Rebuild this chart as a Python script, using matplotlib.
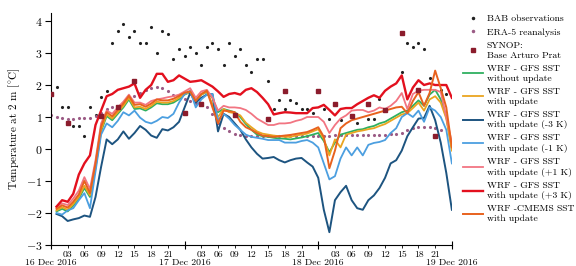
import numpy as np
import matplotlib
matplotlib.use("Agg")
import matplotlib.pyplot as plt
import matplotlib.dates as mdates

plt.rcParams["font.family"] = ["cmr10", "DejaVu Serif"]
plt.rcParams["mathtext.fontset"] = "cm"
plt.rcParams["axes.formatter.use_mathtext"] = True

# Time axis: hours after 16 Dec 2016 00 UTC
start = np.datetime64("2016-12-16T00:00")
model_hours = np.arange(1, 73)

# WRF runs (hourly, h1..h72)
wrf_no_update = [
    -1.95, -1.87, -1.95, -1.77, -1.55, -1.22, -1.5, -0.6, 0.55, 1.03,
    0.9, 1.1, 1.3, 1.55, 1.25, 1.27, 1.2, 1.3, 1.43, 1.4,
    1.4, 1.45, 1.56, 1.7, 1.78, 1.52, 1.7, 1.78, 1.6, 1.15,
    1.25, 1.2, 1.15, 1.0, 0.78, 0.6, 0.45, 0.4, 0.38, 0.35,
    0.33, 0.32, 0.3, 0.33, 0.36, 0.4, 0.45, 0.5, 0.25, -0.1,
    0.2, 0.45, 0.5, 0.55, 0.6, 0.62, 0.68, 0.72, 0.8, 0.85,
    0.95, 1.05, 1.15, 1.2, 1.35, 1.52, 1.35, 1.7, 1.85, 1.55,
    1.0, 0.0]
wrf_update = [
    -1.92, -1.82, -1.9, -1.72, -1.5, -1.15, -1.45, -0.55, 0.6, 1.08,
    0.95, 1.15, 1.35, 1.6, 1.3, 1.32, 1.25, 1.35, 1.48, 1.45,
    1.45, 1.5, 1.6, 1.72, 1.78, 1.5, 1.7, 1.8, 1.4, 1.0,
    1.25, 1.15, 1.12, 1.05, 0.82, 0.68, 0.55, 0.48, 0.45, 0.42,
    0.4, 0.38, 0.38, 0.42, 0.45, 0.48, 0.55, 0.62, 0.32, -0.2,
    0.3, 0.05, 0.45, 0.5, 0.55, 0.58, 0.62, 0.65, 0.72, 0.78,
    0.88, 0.98, 1.08, 1.12, 1.28, 1.45, 1.2, 1.55, 1.65, 1.45,
    0.95, -0.05]
wrf_m3 = [
    -2.03, -2.1, -2.25, -2.2, -2.16, -2.08, -2.12, -1.5, -0.56, 0.3,
    0.15, 0.3, 0.55, 0.32, 0.5, 0.72, 0.6, 0.42, 0.35, 0.62,
    0.58, 0.68, 0.85, 1.3, 1.75, 1.45, 1.6, 1.7, 1.72, 0.55,
    1.1, 1.0, 0.8, 0.6, 0.3, 0.05, -0.15, -0.3, -0.28, -0.25,
    -0.35, -0.42, -0.35, -0.3, -0.28, -0.42, -0.55, -0.9, -1.9, -2.6,
    -1.6, -1.35, -1.15, -1.6, -1.85, -1.9, -1.6, -1.45, -1.22, -0.9,
    -0.45, -0.35, -0.05, 0.4, 0.68, 0.95, 0.97, 1.35, 0.9, 0.2,
    -0.75, -1.9]
wrf_m1 = [
    -2.0, -2.05, -1.92, -1.85, -1.6, -1.38, -1.85, -0.7, 0.45, 0.8,
    0.68, 0.88, 1.15, 1.05, 1.2, 0.98, 0.85, 0.8, 0.88, 1.0,
    0.97, 1.1, 1.45, 1.72, 1.82, 1.3, 1.55, 1.7, 1.72, 0.9,
    1.1, 0.95, 0.75, 0.6, 0.45, 0.38, 0.35, 0.32, 0.28, 0.28,
    0.28, 0.2, 0.2, 0.2, 0.25, 0.28, 0.2, 0.05, -0.45, -0.95,
    -0.85, -0.3, 0.05, -0.2, 0.05, -0.2, 0.13, 0.19, 0.22, 0.28,
    0.5, 0.65, 1.0, 1.12, 1.0, 1.2, 0.85, 1.3, 1.2, 1.0,
    0.6, -0.45]
wrf_p1 = [
    -1.82, -1.7, -1.75, -1.55, -1.3, -0.88, -1.25, -0.35, 0.8, 1.2,
    1.1, 1.3, 1.48, 1.7, 1.45, 1.45, 1.38, 1.5, 1.55, 1.58,
    1.62, 1.65, 1.7, 1.8, 1.9, 1.6, 1.8, 1.85, 1.6, 1.2,
    1.35, 1.3, 1.3, 1.28, 1.22, 1.1, 0.95, 0.85, 0.75, 0.75,
    0.8, 0.8, 0.82, 0.88, 0.92, 1.0, 1.0, 1.0, 0.85, 0.5,
    0.75, 0.95, 1.05, 1.2, 1.22, 1.22, 1.15, 1.2, 1.3, 1.25,
    1.35, 1.5, 1.75, 1.25, 1.72, 1.82, 1.85, 1.85, 1.85, 1.78,
    1.0, 0.2]
wrf_p3 = [
    -1.8, -1.6, -1.65, -1.4, -0.8, -0.45, -0.2, 0.75, 1.2, 1.65,
    1.72, 1.85, 1.9, 1.95, 2.05, 1.6, 1.85, 2.0, 2.35, 2.35,
    2.1, 2.15, 2.3, 2.2, 2.1, 2.12, 2.15, 2.05, 1.95, 1.8,
    1.63, 1.72, 1.75, 1.7, 1.85, 1.9, 1.78, 1.6, 1.4, 1.08,
    1.12, 1.15, 1.14, 1.12, 1.12, 1.12, 1.28, 1.3, 1.38, 1.22,
    1.05, 1.25, 1.28, 1.28, 1.4, 1.5, 1.6, 1.68, 1.6, 1.82,
    1.95, 2.05, 2.3, 1.55, 1.92, 2.15, 2.0, 2.05, 2.0, 2.0,
    2.0, 1.6]
wrf_cmems = [
    -1.87, -1.76, -1.83, -1.65, -1.42, -1.0, -1.38, -0.45, 0.7, 1.15,
    1.02, 1.22, 1.42, 1.66, 1.38, 1.4, 1.32, 1.42, 1.55, 1.52,
    1.52, 1.57, 1.66, 1.76, 1.8, 1.5, 1.72, 1.82, 1.3, 0.8,
    1.2, 1.18, 1.15, 0.85, 0.68, 0.6, 0.5, 0.42, 0.4, 0.38,
    0.4, 0.42, 0.44, 0.47, 0.5, 0.53, 0.6, 0.68, 0.38, -0.6,
    -0.05, 0.65, 0.8, 0.9, 0.95, 1.0, 1.05, 1.1, 1.15, 1.2,
    1.25, 1.3, 1.32, 1.12, 1.5, 1.78, 1.35, 1.75, 2.45, 1.9,
    1.3, 0.05]

# ERA-5 reanalysis (hourly, h0..h70)
era_hours = np.arange(0, 71)
era5 = [
    1.05, 1.0, 0.97, 0.95, 0.95, 0.96, 0.97, 0.98, 1.02, 1.12,
    1.25, 1.3, 1.32, 1.42, 1.55, 1.65, 1.75, 1.85, 1.92, 1.93,
    1.9, 1.82, 1.7, 1.62, 1.55, 1.5, 1.45, 1.4, 1.3, 1.1,
    0.8, 0.65, 0.55, 0.48, 0.43, 0.42, 0.42, 0.42, 0.42, 0.42,
    0.42, 0.42, 0.42, 0.42, 0.42, 0.42, 0.42, 0.42, 0.42, 0.42,
    0.42, 0.43, 0.43, 0.43, 0.43, 0.44, 0.44, 0.44, 0.44, 0.45,
    0.45, 0.46, 0.47, 0.5, 0.58, 0.65, 0.68, 0.7, 0.7, 0.66,
    0.6]

# BAB observations
bab_hours = [1, 2, 3, 4, 5, 6, 7, 8, 9, 10, 11, 12, 13, 14, 15, 16, 17, 18, 19, 20,
             21, 22, 23, 24, 25, 26, 27, 28, 29, 30, 31, 32, 33, 34, 35, 36, 37, 38,
             39, 40, 41, 42, 43, 44, 45, 46, 47, 49, 50, 52, 55, 57, 58, 59, 63, 64,
             65, 66, 67, 68, 70, 71]
bab_obs = [1.93, 1.31, 1.31, 0.72, 0.72, 0.41, 1.31, 1.06, 1.63, 1.81, 3.31, 3.69,
           3.9, 3.5, 3.69, 3.31, 3.31, 3.81, 3.0, 3.69, 3.6, 2.81, 3.12, 2.9, 3.2,
           3.0, 2.62, 3.2, 3.31, 3.12, 2.62, 3.31, 2.9, 3.12, 2.62, 2.4, 2.81, 2.81,
           2.12, 1.25, 1.53, 1.25, 1.53, 1.44, 1.25, 1.25, 1.12, 1.25, 0.94, 0.9,
           0.81, 0.94, 0.94, 1.56, 2.4, 3.31, 3.2, 3.31, 3.12, 2.22, 1.84, 1.72]

# SYNOP Base Arturo Prat
synop_hours = [0, 3, 9, 12, 15, 24, 27, 33, 39, 42, 48, 51, 54, 57, 60, 63, 66, 69]
synop_obs = [1.72, 0.81, 1.03, 1.32, 2.12, 1.12, 1.4, 1.05, 0.94, 1.81, 1.81, 1.42,
             1.03, 1.4, 1.22, 3.63, 1.84, 0.42]


def to_time(h):
    return start + np.array(h) * np.timedelta64(1, "h")


fig = plt.figure(figsize=(5.76, 2.66), dpi=100)
ax = fig.add_axes([0.0885, 0.079, 0.696, 0.872])

ax.plot(to_time(bab_hours), bab_obs, ls="none", marker=".", ms=2.5, color="#222222",
        label="BAB observations")
ax.plot(to_time(era_hours), era5, ls="none", marker=".", ms=2.5, color="#9b5b85",
        label="ERA-5 reanalysis")
ax.plot(to_time(synop_hours), synop_obs, ls="none", marker="s", ms=2.8, color="#8b1c2c",
        label="SYNOP:\nBase Arturo Prat", zorder=5)

t = to_time(model_hours)
ax.plot(t, wrf_no_update, color="#2fb060", lw=1.3, label="WRF - GFS SST\nwithout update")
ax.plot(t, wrf_update, color="#eaa520", lw=1.3, label="WRF - GFS SST\nwith update")
ax.plot(t, wrf_m3, color="#1d5480", lw=1.4, label="WRF - GFS SST\nwith update (-3 K)")
ax.plot(t, wrf_m1, color="#4c9fe0", lw=1.3, label="WRF - GFS SST\nwith update (-1 K)")
ax.plot(t, wrf_p1, color="#f27582", lw=1.3, label="WRF - GFS SST\nwith update (+1 K)")
ax.plot(t, wrf_p3, color="#e3101e", lw=1.7, label="WRF - GFS SST\nwith update (+3 K)")
ax.plot(t, wrf_cmems, color="#e8621e", lw=1.4, label="WRF -CMEMS SST\nwith update")

ax.set_xlim(to_time(0), to_time(72))
ax.set_ylim(-3, 4.25)
ax.set_yticks(range(-3, 5))

ax.xaxis.set_major_locator(mdates.DayLocator())
ax.xaxis.set_major_formatter(mdates.DateFormatter("%d %b %Y"))
ax.xaxis.set_minor_locator(mdates.HourLocator(byhour=range(3, 24, 3)))
ax.xaxis.set_minor_formatter(mdates.DateFormatter("%H"))
ax.tick_params(axis="x", which="major", direction="inout", length=6, pad=7, labelsize=7)
ax.tick_params(axis="x", which="minor", direction="out", length=2.5, pad=1.5, labelsize=7)
ax.tick_params(axis="y", direction="out", length=4, pad=2, labelsize=8.5)

ax.spines["top"].set_visible(False)
ax.spines["right"].set_visible(False)
ax.set_ylabel(r"Temperature at 2 m [$^{\circ}$C]", fontsize=8, labelpad=3)

fig.legend(loc="upper left", bbox_to_anchor=(0.796, 0.965), frameon=False, fontsize=7,
           borderpad=0, handlelength=2.0, handletextpad=0.4, labelspacing=0.5,
           markerscale=1.2)

fig.savefig("out.png", dpi=100)
